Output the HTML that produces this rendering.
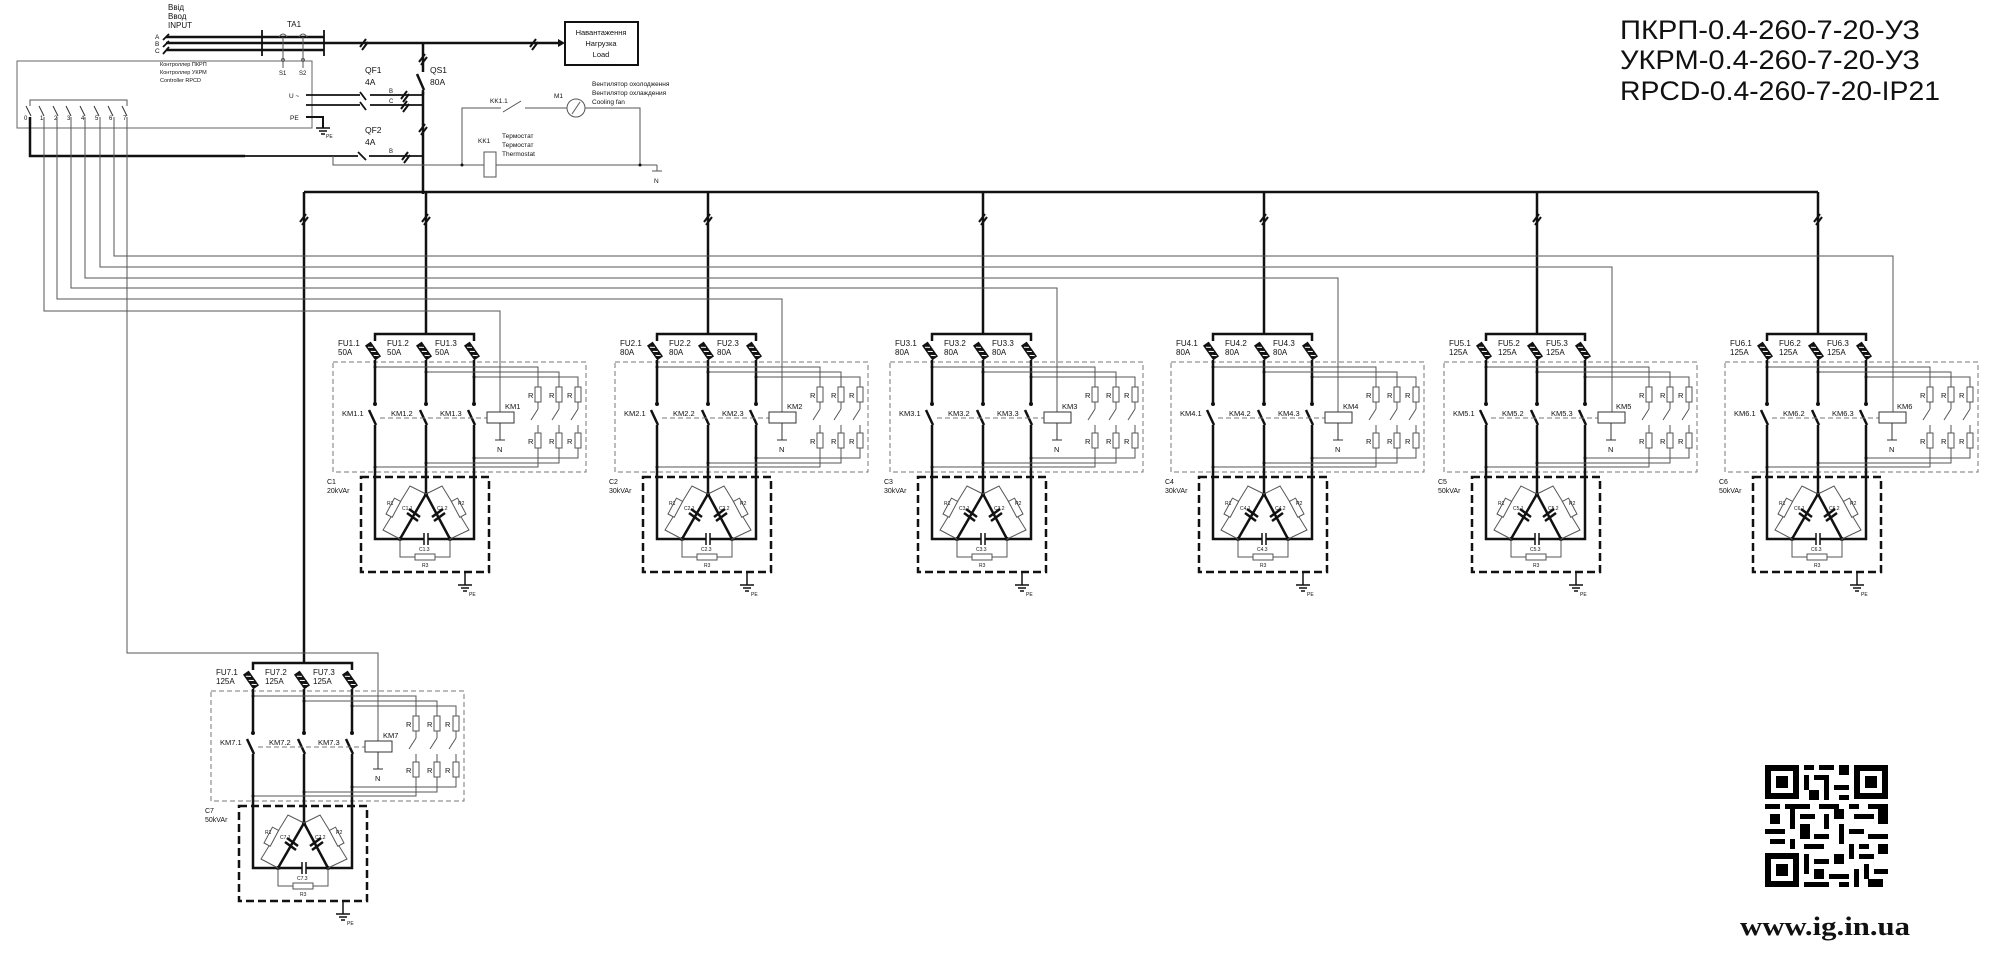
<!DOCTYPE html>
<html><head><meta charset="utf-8"><style>
html,body{margin:0;padding:0;background:#fff;width:2000px;height:960px;overflow:hidden}
svg{display:block}
text{font-family:"Liberation Sans","DejaVu Sans",sans-serif;fill:#111}
</style></head><body>
<svg width="2000" height="960" viewBox="0 0 2000 960" xmlns="http://www.w3.org/2000/svg">
<defs>
<g id="fuse"><g transform="rotate(-35)"><rect x="-3.5" y="-9" width="7" height="18" fill="#111"/><line x1="-2" y1="-6" x2="2" y2="-3" stroke="#fff" stroke-width="1"/><line x1="-2" y1="-1" x2="2" y2="2" stroke="#fff" stroke-width="1"/><line x1="-2" y1="4" x2="2" y2="7" stroke="#fff" stroke-width="1"/></g></g>
<g id="tick"><line x1="-4" y1="4" x2="2" y2="-4" stroke="#111" stroke-width="2"/><line x1="-2" y1="7" x2="4" y2="-1" stroke="#111" stroke-width="2"/></g>
<g id="mod">
 <rect x="333" y="362" width="253" height="110" fill="none" stroke="#777" stroke-width="1" stroke-dasharray="5 3"/>
 <rect x="361" y="477" width="128" height="95" fill="none" stroke="#111" stroke-width="2.5" stroke-dasharray="8 4"/>
 <path d="M375 341V334H474V341" fill="none" stroke="#111" stroke-width="2.5"/>
 <use href="#fuse" x="373" y="351"/><use href="#fuse" x="424" y="351"/><use href="#fuse" x="472" y="351"/>
 <g stroke="#111" stroke-width="2.5" fill="none">
  <path d="M375 360V404M426 360V404M474 360V404"/>
  <path d="M369 410L376 425M420 410L427 425M468 410L475 425"/>
  <path d="M375 425V539H400M474 425V539H450M426 425V494"/>
  <path d="M426 494L400 539M426 494L450 539M400 539H424M428 539H450"/>
 </g>
 <g fill="#111"><circle cx="375" cy="404" r="2"/><circle cx="426" cy="404" r="2"/><circle cx="474" cy="404" r="2"/><circle cx="426" cy="494" r="2"/><circle cx="400" cy="539" r="2"/><circle cx="450" cy="539" r="2"/></g>
 <g stroke="#111" stroke-width="2.5">
  <line x1="409" y1="509" x2="420" y2="517"/><line x1="407" y1="513" x2="418" y2="521"/>
  <line x1="443" y1="509" x2="432" y2="517"/><line x1="445" y1="513" x2="434" y2="521"/>
  <line x1="424" y1="533" x2="424" y2="545" stroke-width="1.5"/><line x1="428" y1="533" x2="428" y2="545" stroke-width="1.5"/>
 </g>
 <g fill="none" stroke="#555" stroke-width="1">
  <path d="M426 494L410 486L383 530L400 539M426 494L442 486L469 530L450 539M400 539V557H450V539"/>
 </g>
 <rect x="390" y="500" width="7" height="18" fill="#fff" stroke="#555" transform="rotate(28 396 508)"/>
 <rect x="455" y="500" width="7" height="18" fill="#fff" stroke="#555" transform="rotate(-28 456 508)"/>
 <rect x="415" y="554" width="20" height="6" fill="#fff" stroke="#555"/>
 <g stroke="#111" stroke-width="1.5"><line x1="465" y1="572" x2="465" y2="585"/><line x1="458" y1="585" x2="472" y2="585"/><line x1="461" y1="588" x2="469" y2="588"/><line x1="463" y1="591" x2="467" y2="591"/></g>
 <line x1="380" y1="418" x2="487" y2="418" stroke="#777" stroke-dasharray="5 3"/>
 <rect x="487" y="412" width="27" height="11" fill="#fff" stroke="#333"/>
 <path d="M500 423V440M495 440H505" stroke="#333" fill="none"/>
 <g fill="none" stroke="#555" stroke-width="1">
  <path d="M375 367H538V387M426 372H559V387M474 377H578V387"/>
  <path d="M538 402V409M559 402V409M578 402V409"/>
  <path d="M538 409L531 420M559 409L552 420M578 409L571 420"/>
  <path d="M538 425V433M559 425V433M578 425V433"/>
  <path d="M538 448V467H375M559 448V463H426M578 448V458H474"/>
 </g>
 <g fill="#fff" stroke="#555"><rect x="535" y="387" width="6" height="15"/><rect x="556" y="387" width="6" height="15"/><rect x="575" y="387" width="6" height="15"/><rect x="535" y="433" width="6" height="15"/><rect x="556" y="433" width="6" height="15"/><rect x="575" y="433" width="6" height="15"/></g>
 <g fill="#111"><circle cx="375" cy="367" r="1.5"/><circle cx="426" cy="372" r="1.5"/><circle cx="474" cy="377" r="1.5"/><circle cx="375" cy="467" r="1.5"/><circle cx="426" cy="463" r="1.5"/><circle cx="474" cy="458" r="1.5"/></g>
 <g font-size="7.5"><text x="528" y="398">R</text><text x="549" y="398">R</text><text x="567" y="398">R</text><text x="528" y="444">R</text><text x="549" y="444">R</text><text x="567" y="444">R</text><text x="497" y="452">N</text></g>
 <g font-size="5"><text x="387" y="505">R1</text><text x="458" y="505">R2</text><text x="422" y="567">R3</text><text x="469" y="596">PE</text></g>
</g>
</defs>

<!-- Title -->
<g font-size="27"><text x="1620" y="39" textLength="300" lengthAdjust="spacingAndGlyphs">ПКРП-0.4-260-7-20-УЗ</text>
<text x="1620" y="69" textLength="300" lengthAdjust="spacingAndGlyphs">УКРМ-0.4-260-7-20-УЗ</text>
<text x="1620" y="100" textLength="320" lengthAdjust="spacingAndGlyphs">RPCD-0.4-260-7-20-IP21</text></g>

<!-- QR -->
<g fill="#000">
<path d="M1765 765h34v34h-34zM1771 771v22h22v-22z M1854 765h34v34h-34zM1860 771v22h22v-22z M1765 853h34v34h-34zM1771 859v22h22v-22z" fill-rule="evenodd"/>
<rect x="1776" y="776" width="12" height="12"/><rect x="1865" y="776" width="12" height="12"/><rect x="1776" y="864" width="12" height="12"/>
<rect x="1804" y="765" width="10" height="5"/><rect x="1819" y="765" width="15" height="5"/><rect x="1839" y="765" width="10" height="10"/>
<rect x="1804" y="775" width="5" height="15"/><rect x="1814" y="775" width="15" height="5"/><rect x="1824" y="780" width="5" height="20"/><rect x="1834" y="785" width="15" height="5"/><rect x="1809" y="790" width="10" height="10"/><rect x="1839" y="795" width="10" height="5"/>
<rect x="1765" y="804" width="15" height="5"/><rect x="1785" y="804" width="25" height="5"/><rect x="1819" y="804" width="20" height="5"/><rect x="1849" y="804" width="10" height="5"/><rect x="1868" y="804" width="20" height="5"/>
<rect x="1770" y="814" width="10" height="10"/><rect x="1790" y="809" width="5" height="20"/><rect x="1800" y="814" width="15" height="5"/><rect x="1824" y="814" width="5" height="15"/><rect x="1834" y="809" width="10" height="10"/><rect x="1854" y="814" width="20" height="5"/><rect x="1878" y="809" width="10" height="15"/>
<rect x="1765" y="829" width="20" height="5"/><rect x="1800" y="824" width="10" height="15"/><rect x="1814" y="834" width="15" height="5"/><rect x="1839" y="824" width="5" height="20"/><rect x="1849" y="829" width="15" height="5"/><rect x="1868" y="834" width="20" height="5"/>
<rect x="1770" y="839" width="15" height="5"/><rect x="1790" y="839" width="5" height="10"/><rect x="1804" y="844" width="20" height="5"/><rect x="1849" y="844" width="5" height="15"/><rect x="1859" y="844" width="10" height="5"/><rect x="1878" y="844" width="10" height="10"/>
<rect x="1804" y="854" width="5" height="20"/><rect x="1814" y="859" width="15" height="5"/><rect x="1834" y="854" width="10" height="10"/><rect x="1859" y="854" width="15" height="5"/><rect x="1864" y="864" width="5" height="15"/>
<rect x="1814" y="869" width="10" height="10"/><rect x="1829" y="874" width="20" height="5"/><rect x="1854" y="869" width="5" height="18"/><rect x="1874" y="869" width="14" height="5"/><rect x="1804" y="882" width="25" height="5"/><rect x="1839" y="882" width="10" height="5"/><rect x="1868" y="879" width="15" height="8"/>
</g>
<text x="1740" y="935" style="font-family:'Liberation Serif',serif;font-weight:bold;font-size:26px" textLength="170" lengthAdjust="spacingAndGlyphs">www.ig.in.ua</text>

<!-- Input section -->
<g font-size="8"><text x="168" y="10">Ввід</text><text x="168" y="19">Ввод</text><text x="168" y="28">INPUT</text><text x="287" y="27">TA1</text></g>
<g font-size="6.5"><text x="155" y="39">A</text><text x="155" y="46">B</text><text x="155" y="53">C</text></g>
<g stroke="#111" stroke-width="2.5" fill="none">
 <path d="M166 37H324M166 43H324M166 50H324"/>
 <path d="M324 43H558M423 43V194"/>
</g>
<g stroke="#111" stroke-width="1.8"><line x1="262" y1="30" x2="262" y2="56"/><line x1="324" y1="30" x2="324" y2="56"/>
<line x1="163" y1="40" x2="169" y2="34"/><line x1="163" y1="47" x2="169" y2="41"/><line x1="163" y1="54" x2="169" y2="47"/></g>
<path d="M558 39L565 43L558 47Z" fill="#111"/>
<use href="#tick" x="364" y="43"/><use href="#tick" x="534" y="43"/>
<rect x="565" y="22" width="73" height="43" fill="none" stroke="#111" stroke-width="2"/>
<g font-size="7.5" text-anchor="middle"><text x="601" y="35">Навантаження</text><text x="601" y="46">Нагрузка</text><text x="601" y="57">Load</text></g>
<g stroke="#555" fill="none"><path d="M279 37Q283 31 287 37M299 37Q303 31 307 37"/><path d="M283 37V68M303 37V68"/><circle cx="283" cy="60" r="1.5"/><circle cx="303" cy="60" r="1.5"/></g>
<g font-size="6"><text x="279" y="75">S1</text><text x="299" y="75">S2</text></g>
<!-- controller -->
<rect x="17" y="61" width="295" height="67" fill="none" stroke="#666"/>
<g font-size="5.5"><text x="160" y="66">Контроллер ПКРП</text><text x="160" y="74">Контроллер УКРМ</text><text x="160" y="82">Controller RPCD</text></g>
<path d="M30 106V100H127V106" fill="none" stroke="#555"/>
<g stroke="#333" fill="none">
 <path d="M26 106L31 116M39 106L44 116M53 106L58 116M66 106L71 116M80 106L85 116M94 106L99 116M108 106L113 116M122 106L127 116"/>
</g>
<g font-size="6"><text x="24" y="120">0</text><text x="40" y="120">1</text><text x="54" y="120">2</text><text x="67" y="120">3</text><text x="81" y="120">4</text><text x="95" y="120">5</text><text x="109" y="120">6</text><text x="123" y="120">7</text></g>
<g font-size="6.5"><text x="289" y="98">U ~</text><text x="290" y="120">PE</text></g>
<g stroke="#111" stroke-width="1.8" fill="none"><path d="M306 95H360M370 95H423M306 105H360M370 105H423"/><path d="M360 92L366 100M360 102L366 110"/></g>
<use href="#tick" x="405" y="95"/><use href="#tick" x="405" y="105"/>
<g font-size="6"><text x="389" y="93">B</text><text x="389" y="103">C</text><text x="389" y="153">B</text></g>
<path d="M306 117H323V128" stroke="#111" stroke-width="2" fill="none"/>
<g stroke="#111" stroke-width="1.5"><line x1="316" y1="128" x2="330" y2="128"/><line x1="319" y1="131" x2="327" y2="131"/><line x1="321" y1="134" x2="325" y2="134"/></g>
<text x="326" y="138" font-size="5">PE</text>
<!-- QS1 -->
<rect x="420" y="66" width="7" height="26" fill="#fff"/>
<path d="M423 66V72M417 74L424 90M423 90V95" stroke="#111" stroke-width="2.5" fill="none"/>
<use href="#tick" x="423" y="58"/><use href="#tick" x="423" y="128"/>
<g font-size="8.5"><text x="365" y="73">QF1</text><text x="365" y="85">4A</text><text x="430" y="73">QS1</text><text x="430" y="85">80A</text><text x="365" y="133">QF2</text><text x="365" y="145">4A</text></g>
<!-- pin0 line / QF2 -->
<path d="M30 117V156H245" stroke="#111" stroke-width="2.5" fill="none"/>
<path d="M245 156H358M369 156H423" stroke="#111" stroke-width="1.8" fill="none"/>
<path d="M358 152L366 160" stroke="#111" stroke-width="1.8"/>
<use href="#tick" x="406" y="156"/>
<!-- thermostat / fan -->
<g stroke="#555" fill="none"><path d="M333 156V165H657M462 165V108H501M525 108H567M585 108H640V165M657 165V171M652 171H662"/><path d="M503 112L521 101"/></g>
<circle cx="576" cy="108" r="9" fill="#fff" stroke="#555"/><path d="M572 114L580 102" stroke="#555"/>
<rect x="484" y="152" width="12" height="25" fill="#fff" stroke="#555"/>
<g fill="#111"><circle cx="462" cy="165" r="1.5"/><circle cx="640" cy="165" r="1.5"/></g>
<g font-size="6.5"><text x="490" y="103">KK1.1</text><text x="554" y="98">M1</text><text x="592" y="86">Вентилятор охолодження</text><text x="592" y="95">Вентилятор охлаждения</text><text x="592" y="104">Cooling fan</text>
<text x="478" y="143">KK1</text><text x="502" y="138">Термостат</text><text x="502" y="147">Термостат</text><text x="502" y="156">Thermostat</text><text x="654" y="183">N</text></g>

<!-- Bus -->
<path d="M304 192H1818" stroke="#111" stroke-width="2.5" fill="none"/>
<g stroke="#111" stroke-width="2.5">
<line x1="304" y1="192" x2="304" y2="663"/>
<line x1="426" y1="192" x2="426" y2="334"/><line x1="708" y1="192" x2="708" y2="334"/><line x1="983" y1="192" x2="983" y2="334"/><line x1="1264" y1="192" x2="1264" y2="334"/><line x1="1537" y1="192" x2="1537" y2="334"/><line x1="1818" y1="192" x2="1818" y2="334"/></g>
<use href="#tick" x="304" y="218"/><use href="#tick" x="426" y="218"/><use href="#tick" x="708" y="218"/><use href="#tick" x="983" y="218"/><use href="#tick" x="1264" y="218"/><use href="#tick" x="1537" y="218"/><use href="#tick" x="1818" y="218"/>

<!-- signal lines -->
<g stroke="#555" fill="none" stroke-width="1">
<path d="M44 117V311H500V412"/>
<path d="M57 117V299H782V412"/>
<path d="M71 117V288H1057V412"/>
<path d="M85 117V278H1338V412"/>
<path d="M100 117V267H1612V412"/>
<path d="M114 117V256H1893V412"/>
<path d="M127 117V653H378V741"/>
</g>

<!-- modules -->
<use href="#mod"/>
<use href="#mod" x="282"/>
<use href="#mod" x="557"/>
<use href="#mod" x="838"/>
<use href="#mod" x="1111"/>
<use href="#mod" x="1392"/>
<use href="#mod" x="-122" y="329"/>

<g font-size="8">
<text x="338" y="346">FU1.1</text><text x="338" y="355">50A</text><text x="387" y="346">FU1.2</text><text x="387" y="355">50A</text><text x="435" y="346">FU1.3</text><text x="435" y="355">50A</text>
<text x="620" y="346">FU2.1</text><text x="620" y="355">80A</text><text x="669" y="346">FU2.2</text><text x="669" y="355">80A</text><text x="717" y="346">FU2.3</text><text x="717" y="355">80A</text>
<text x="895" y="346">FU3.1</text><text x="895" y="355">80A</text><text x="944" y="346">FU3.2</text><text x="944" y="355">80A</text><text x="992" y="346">FU3.3</text><text x="992" y="355">80A</text>
<text x="1176" y="346">FU4.1</text><text x="1176" y="355">80A</text><text x="1225" y="346">FU4.2</text><text x="1225" y="355">80A</text><text x="1273" y="346">FU4.3</text><text x="1273" y="355">80A</text>
<text x="1449" y="346">FU5.1</text><text x="1449" y="355">125A</text><text x="1498" y="346">FU5.2</text><text x="1498" y="355">125A</text><text x="1546" y="346">FU5.3</text><text x="1546" y="355">125A</text>
<text x="1730" y="346">FU6.1</text><text x="1730" y="355">125A</text><text x="1779" y="346">FU6.2</text><text x="1779" y="355">125A</text><text x="1827" y="346">FU6.3</text><text x="1827" y="355">125A</text>
<text x="216" y="675">FU7.1</text><text x="216" y="684">125A</text><text x="265" y="675">FU7.2</text><text x="265" y="684">125A</text><text x="313" y="675">FU7.3</text><text x="313" y="684">125A</text>
</g>
<g font-size="7.5">
<text x="342" y="416">KM1.1</text><text x="391" y="416">KM1.2</text><text x="440" y="416">KM1.3</text><text x="505" y="409">KM1</text>
<text x="624" y="416">KM2.1</text><text x="673" y="416">KM2.2</text><text x="722" y="416">KM2.3</text><text x="787" y="409">KM2</text>
<text x="899" y="416">KM3.1</text><text x="948" y="416">KM3.2</text><text x="997" y="416">KM3.3</text><text x="1062" y="409">KM3</text>
<text x="1180" y="416">KM4.1</text><text x="1229" y="416">KM4.2</text><text x="1278" y="416">KM4.3</text><text x="1343" y="409">KM4</text>
<text x="1453" y="416">KM5.1</text><text x="1502" y="416">KM5.2</text><text x="1551" y="416">KM5.3</text><text x="1616" y="409">KM5</text>
<text x="1734" y="416">KM6.1</text><text x="1783" y="416">KM6.2</text><text x="1832" y="416">KM6.3</text><text x="1897" y="409">KM6</text>
<text x="220" y="745">KM7.1</text><text x="269" y="745">KM7.2</text><text x="318" y="745">KM7.3</text><text x="383" y="738">KM7</text>
</g>
<g font-size="7">
<text x="327" y="484">C1</text><text x="327" y="493">20kVAr</text>
<text x="609" y="484">C2</text><text x="609" y="493">30kVAr</text>
<text x="884" y="484">C3</text><text x="884" y="493">30kVAr</text>
<text x="1165" y="484">C4</text><text x="1165" y="493">30kVAr</text>
<text x="1438" y="484">C5</text><text x="1438" y="493">50kVAr</text>
<text x="1719" y="484">C6</text><text x="1719" y="493">50kVAr</text>
<text x="205" y="813">C7</text><text x="205" y="822">50kVAr</text>
</g>
<g font-size="5">
<text x="402" y="510">C1.1</text><text x="437" y="510">C1.2</text><text x="419" y="551">C1.3</text>
<text x="684" y="510">C2.1</text><text x="719" y="510">C2.2</text><text x="701" y="551">C2.3</text>
<text x="959" y="510">C3.1</text><text x="994" y="510">C3.2</text><text x="976" y="551">C3.3</text>
<text x="1240" y="510">C4.1</text><text x="1275" y="510">C4.2</text><text x="1257" y="551">C4.3</text>
<text x="1513" y="510">C5.1</text><text x="1548" y="510">C5.2</text><text x="1530" y="551">C5.3</text>
<text x="1794" y="510">C6.1</text><text x="1829" y="510">C6.2</text><text x="1811" y="551">C6.3</text>
<text x="280" y="839">C7.1</text><text x="315" y="839">C7.2</text><text x="297" y="880">C7.3</text>
</g>
</svg>
</body></html>
